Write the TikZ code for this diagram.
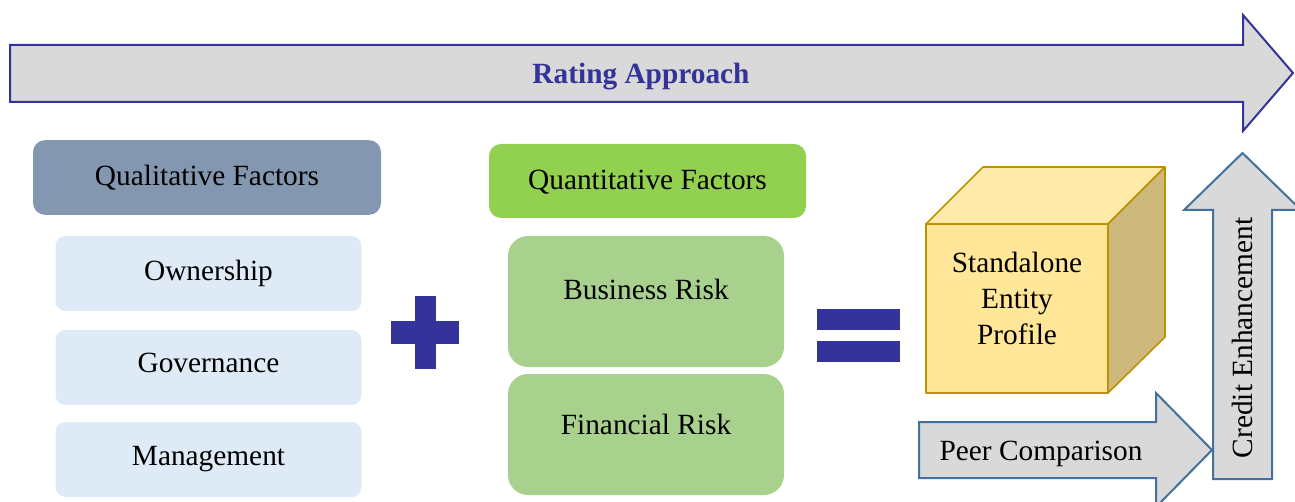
\documentclass[tikz,border=0pt]{standalone}
\usepackage{fontspec}
\setmainfont{Liberation Serif}
\usepackage{tikz}

\definecolor{ratingblue}{RGB}{51,51,153}
\definecolor{arrowgrey}{RGB}{217,217,217}
\definecolor{steelblue}{RGB}{65,113,156}
\definecolor{qualgrey}{RGB}{132,151,176}
\definecolor{softblue}{RGB}{222,235,247}
\definecolor{quantgreen}{RGB}{146,208,80}
\definecolor{riskgreen}{RGB}{169,209,142}
\definecolor{cubefront}{RGB}{255,230,153}
\definecolor{cubetop}{RGB}{255,234,170}
\definecolor{cubeside}{RGB}{204,185,123}
\definecolor{cubeedge}{RGB}{191,144,0}

\begin{document}
\begin{tikzpicture}[x=0.75pt,y=-0.75pt,
  box/.style={shape=rectangle,inner sep=0pt,outer sep=0pt,align=center,font=\fontsize{22}{27}\selectfont},
  hdr/.style={box,rounded corners=9pt,minimum height=56pt},
  soft/.style={box,fill=softblue,rounded corners=7.5pt,minimum width=229.5pt,minimum height=56.25pt,text depth=5pt},
  risk/.style={box,fill=riskgreen,rounded corners=15pt,minimum width=207pt},
  bar/.style={shape=rectangle,inner sep=0pt,outer sep=0pt,fill=ratingblue},
  blockarrow/.style={fill=arrowgrey,line width=1.5pt,line join=miter},
  cubeface/.style={draw=cubeedge,line width=1.2pt,line join=round}]
  \useasboundingbox (0,0) rectangle (1295,502);

  \draw [blockarrow,draw=ratingblue] (10,45) -- (1243,45) -- (1243,15) -- (1293,73) -- (1243,131) -- (1243,102) -- (10,102) -- cycle;
  \node (rate) at (641,77) [box,text=ratingblue,font=\fontsize{22}{26}\selectfont\bfseries] {Rating Approach} ;

  \node (ql) at (207,177.5) [hdr,fill=qualgrey,minimum width=261pt,text depth=4pt] {Qualitative Factors} ;
  \node (own) at (208.5,273.5) [soft] {Ownership} ;
  \node (gov) at (208.5,367.5) [soft,text depth=7pt] {Governance} ;
  \node (mgt) at (208.5,459.5) [soft] {Management} ;

  \node (plh) at (425,332.5) [bar,minimum width=51pt,minimum height=17.25pt] {} ;
  \node (plv) at (425.5,332.5) [bar,minimum width=15.75pt,minimum height=54.75pt] {} ;

  \node (qn) at (647.5,181) [hdr,fill=quantgreen,minimum width=237.75pt,minimum height=55.5pt,text depth=2pt] {Quantitative Factors} ;
  \node (bus) at (646,301.5) [risk,minimum height=98.25pt,text depth=18pt] {Business Risk} ;
  \node (fin) at (646,434.5) [risk,minimum height=90.75pt,text depth=15pt] {Financial Risk} ;

  \node (eq1) at (858.5,319.5) [bar,minimum width=62.25pt,minimum height=15.75pt] {} ;
  \node (eq2) at (858.5,351.5) [bar,minimum width=62.25pt,minimum height=15.75pt] {} ;

  % cube
  \node (sep) at (1017,308.5) [box,fill=cubefront,cubeface,minimum width=136.5pt,minimum height=126.75pt,text depth=15pt] {Standalone\\Entity\\Profile} ;
  \draw [cubeface,fill=cubetop] (sep.north west) -- ++(57,-57) -- ++(182,0) -- (sep.north east) -- cycle;
  \draw [cubeface,fill=cubeside] (sep.north east) -- ++(57,-57) -- ++(0,170) -- (sep.south east) -- cycle;

  \draw [blockarrow,draw=steelblue] (919,422) -- (1156,422) -- (1156,393) -- (1212,450) -- (1156,507) -- (1156,478) -- (919,478) -- cycle;
  \node (peer) at (1041,454) [box] {Peer Comparison} ;

  \draw [blockarrow,draw=steelblue] (1213,479) -- (1213,210) -- (1184,210) -- (1242.5,153) -- (1301,210) -- (1272,210) -- (1272,479) -- cycle;
  \node (cred) at (1242.5,338) [box,rotate=90] {Credit Enhancement} ;
\end{tikzpicture}
\end{document}
